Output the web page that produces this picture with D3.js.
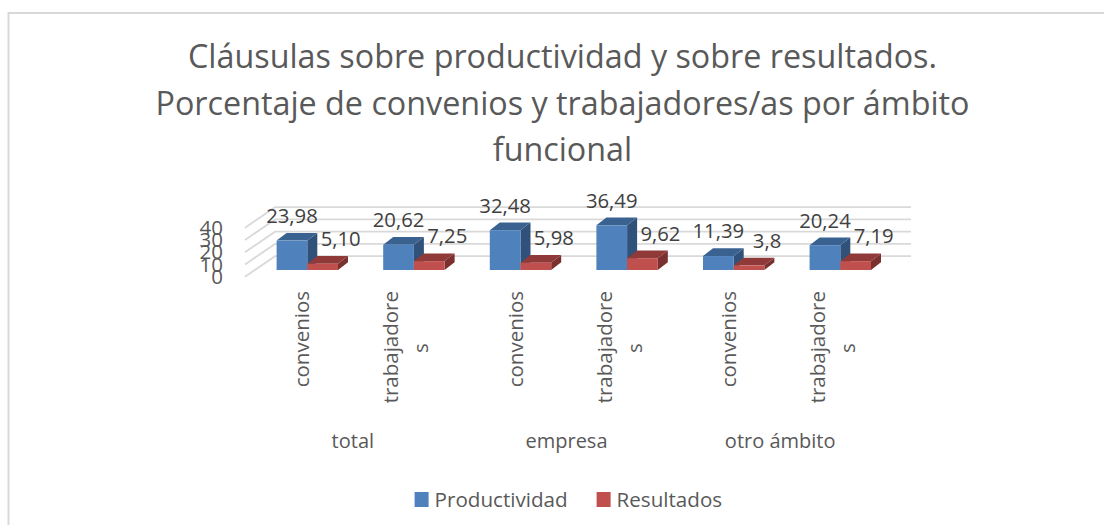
<!DOCTYPE html>
<html lang="es">

<head>
    <meta charset="utf-8">
    <title>Cláusulas sobre productividad y sobre resultados</title>
    <script src="https://d3js.org/d3.v7.min.js"></script>
    <style>
        html, body { margin: 0; padding: 0; background: #fff; overflow: hidden; }
        svg { display: block; }
        text { font-family: "Open Sans", sans-serif; }
    </style>
</head>

<body>
    <svg id="chart" width="1104" height="525"></svg>

    <script>

// Data
const titleLines = ["Cláusulas sobre productividad y sobre resultados.",
    "Porcentaje de convenios y trabajadores/as por ámbito", "funcional"]
const groups = ["total", "empresa", "otro ámbito"]
const barKeys = ["c1", "t1", "c2", "t2", "c3", "t3"]
const barLabels = [["convenios"], ["trabajadore", "s"], ["convenios"], ["trabajadore", "s"], ["convenios"], ["trabajadore", "s"]]
const seriesNames = ["Productividad", "Resultados"]
const productividad = [23.98, 20.62, 32.48, 36.49, 11.39, 20.24]
const resultados = [5.10, 7.25, 5.98, 9.62, 3.8, 7.19]
const resultadosText = ["5,10", "7,25", "5,98", "9,62", "3,8", "7,19"]
const productividadText = ["23,98", "20,62", "32,48", "36,49", "11,39", "20,24"]
const yTicks = [0, 10, 20, 30, 40]

const svg = d3.select("#chart")

// outer frame: only top and left edges are visible
svg.append("path")
    .attr("d", "M1104,13H8.5V525")
    .attr("fill", "none")
    .attr("stroke", "#d9d9d9")
    .attr("stroke-width", 2)

// Title
svg.append("g").selectAll("text")
    .data(titleLines)
    .join("text")
    .attr("x", 562.5)
    .attr("y", (d, i) => 68 + i * 46.5)
    .attr("text-anchor", "middle")
    .attr("font-size", 32.3)
    .attr("fill", "#595959")
    .text(d => d)

// Scales
const y = d3.scaleLinear().domain([0, 40]).range([276.7, 227.7])
const x0 = d3.scaleBand().domain(barKeys).range([254, 893.6])
const x1 = d3.scaleBand().domain(seriesNames).range([22.6, 84])
const xGroup = d3.scaleBand().domain(groups).range([246, 887])

// 3D wall offset and bar depth
const wall = {dx: 30, dy: -20.5}
const bar = {dx: 10, dy: -7.7}
const floorY = 270

// Gridlines: diagonal on the side wall, horizontal on the back wall
const grid = svg.append("g")
    .attr("fill", "none")
    .attr("stroke", "#d9d9d9")
    .attr("stroke-width", 1.8)
yTicks.forEach(function(t) {
    grid.append("path")
        .attr("d", `M245,${y(t)}L${245 + wall.dx},${y(t) + wall.dy}H911`)
})

// Y axis labels
const yAxis = svg.append("g")
    .attr("transform", "translate(236,0)")
    .call(d3.axisLeft(y).tickValues(yTicks).tickSize(0).tickPadding(0))
yAxis.select(".domain").remove()
yAxis.selectAll("text")
    .attr("x", -13)
    .attr("font-size", 20.5)
    .attr("font-family", "\"Open Sans\", sans-serif")
    .attr("fill", "#595959")

// height of a value in pixels
const h = v => y(0) - y(v)

const colors = {
    Productividad: {front: "#4f81bd", top: "#3a6291", side: "#30527a"},
    Resultados: {front: "#c0504d", top: "#8f3a38", side: "#79302e"}
}

// Bars, blue first so the red box sits in front of the blue side face
const barsData = []
barKeys.forEach(function(k, i) {
    barsData.push({key: k, series: "Productividad", value: productividad[i], text: productividadText[i]})
    barsData.push({key: k, series: "Resultados", value: resultados[i], text: resultadosText[i]})
})

const bars = svg.append("g").selectAll("g")
    .data(barsData)
    .join("g")
    .attr("transform", d => `translate(${x0(d.key) + x1(d.series)},${floorY})`)

bars.append("path")
    .attr("fill", d => colors[d.series].side)
    .attr("d", function(d) {
        const w = x1.bandwidth()
        return `M${w},0V${-h(d.value)}l${bar.dx},${bar.dy}V${bar.dy}Z`
    })
bars.append("path")
    .attr("fill", d => colors[d.series].top)
    .attr("d", function(d) {
        const w = x1.bandwidth()
        return `M0,${-h(d.value)}H${w}l${bar.dx},${bar.dy}H${bar.dx}Z`
    })
bars.append("rect")
    .attr("y", d => -h(d.value))
    .attr("width", x1.bandwidth())
    .attr("height", d => h(d.value))
    .attr("fill", d => colors[d.series].front)

// Data labels
svg.append("g").selectAll("text")
    .data(barsData)
    .join("text")
    .attr("x", d => x0(d.key) + x1(d.series) + x1.bandwidth() / 2 + (d.series === "Resultados" ? 18 : 0))
    .attr("y", d => floorY - h(d.value) - 17.7)
    .attr("text-anchor", "middle")
    .attr("font-size", 20.3)
    .attr("fill", "#404040")
    .text(d => d.text)

// Rotated category labels
const tickG = svg.append("g").selectAll("g")
    .data(barKeys)
    .join("g")
    .attr("transform", d => `translate(${x0(d) + x0.bandwidth() / 2 - 4},291) rotate(-90)`)
tickG.each(function(k, i) {
    const lines = barLabels[i]
    if (lines.length === 1) {
        d3.select(this).append("text")
            .attr("text-anchor", "end")
            .attr("dy", 6)
            .attr("font-size", 20.5)
            .attr("fill", "#595959")
            .text(lines[0])
    } else {
        d3.select(this).append("text")
            .attr("text-anchor", "end")
            .attr("y", -18.5)
            .attr("dy", 7)
            .attr("font-size", 20.5)
            .attr("fill", "#595959")
            .text(lines[0])
        d3.select(this).append("text")
            .attr("x", -57)
            .attr("y", 11.5)
            .attr("dy", 7)
            .attr("text-anchor", "middle")
            .attr("font-size", 20.5)
            .attr("fill", "#595959")
            .text(lines[1])
    }
})

// Group labels
svg.append("g").selectAll("text")
    .data(groups)
    .join("text")
    .attr("x", d => xGroup(d) + xGroup.bandwidth() / 2)
    .attr("y", 448)
    .attr("text-anchor", "middle")
    .attr("font-size", 20)
    .attr("fill", "#595959")
    .text(d => d)

// Legend
const legendX = d3.scaleOrdinal().domain(seriesNames).range([414.6, 596.6])
const legend = svg.append("g").selectAll("g")
    .data(seriesNames)
    .join("g")
    .attr("transform", d => `translate(${legendX(d)},492)`)
legend.append("rect")
    .attr("width", 14)
    .attr("height", 15)
    .attr("fill", d => colors[d].front)
legend.append("text")
    .attr("x", 20)
    .attr("y", 15)
    .attr("font-size", 20.6)
    .attr("fill", "#595959")
    .text(d => d)

</script>
</body>

</html>
